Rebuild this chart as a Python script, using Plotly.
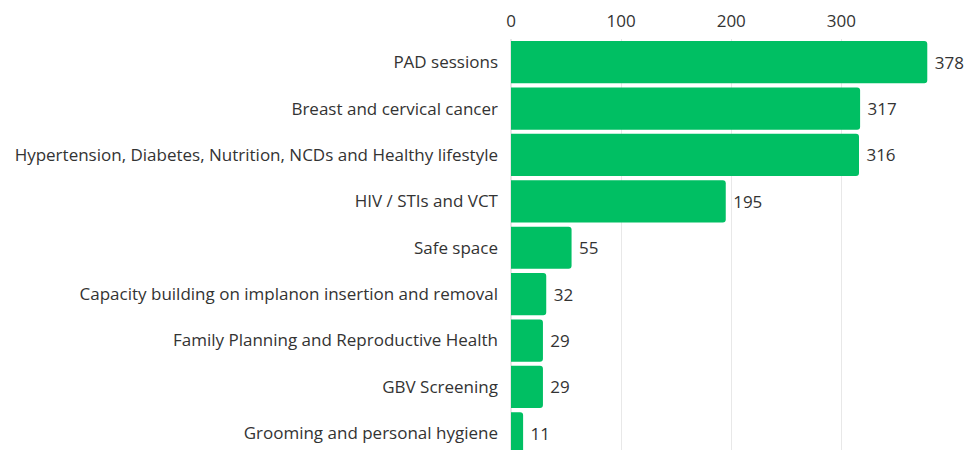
import plotly.graph_objects as go

categories = [
    "PAD sessions",
    "Breast and cervical cancer",
    "Hypertension, Diabetes, Nutrition, NCDs and Healthy lifestyle",
    "HIV / STIs and VCT",
    "Safe space",
    "Capacity building on implanon insertion and removal",
    "Family Planning and Reproductive Health",
    "GBV Screening",
    "Grooming and personal hygiene",
]
values = [378, 317, 316, 195, 55, 32, 29, 29, 11]
x_ticks = [0, 100, 200, 300]

FONT = "Open Sans"
FS = 17

fig = go.Figure(go.Bar(
    x=values,
    y=categories,
    orientation="h",
    marker=dict(color="#00BF63", line=dict(width=0)),
    text=[f" {v}" for v in values],
    textposition="outside",
    textfont=dict(family=FONT, size=FS, color="#333333"),
    cliponaxis=False,
    hoverinfo="x+y",
))

fig.update_layout(
    width=965,
    height=450,
    margin=dict(l=511, r=19, t=39, b=0, autoexpand=False),
    paper_bgcolor="white",
    plot_bgcolor="white",
    bargap=0.09,
    barcornerradius=3,
    showlegend=False,
    font=dict(family=FONT, size=FS, color="#333333"),
    xaxis=dict(
        side="top",
        range=[0, 395],
        tickvals=x_ticks,
        automargin=False,
        showgrid=True,
        gridcolor="#E8E8E8",
        gridwidth=1,
        zeroline=True,
        zerolinecolor="#E8E8E8",
        showline=False,
        ticks="outside",
        ticklen=4,
        tickcolor="white",
        tickfont=dict(size=FS, color="#333333"),
    ),
    yaxis=dict(
        categoryorder="array",
        categoryarray=categories,
        range=[8.36, -0.5],
        automargin=False,
        showgrid=False,
        showline=False,
        ticks="",
        ticklabelstandoff=12,
        tickfont=dict(size=FS, color="#333333"),
    ),
)

fig.write_html(
    "out.html",
    config={"displayModeBar": False},
    post_script="document.body.style.margin='0';document.body.style.overflow='hidden';",
)
